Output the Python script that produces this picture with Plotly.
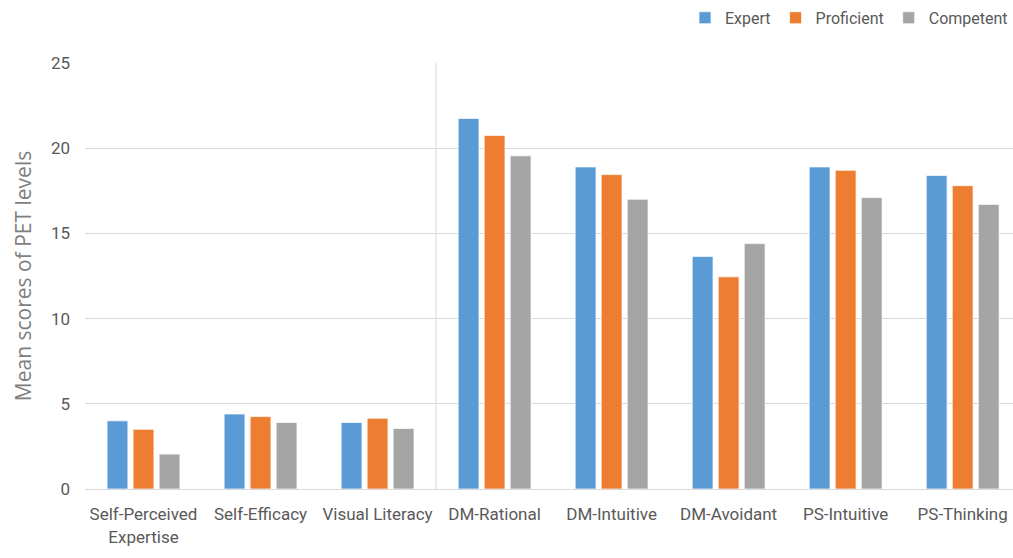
import plotly.graph_objects as go

categories = ["Self-Perceived<br>Expertise", "Self-Efficacy", "Visual Literacy",
              "DM-Rational", "DM-Intuitive", "DM-Avoidant", "PS-Intuitive", "PS-Thinking"]
expert = [4.0, 4.4, 3.9, 21.75, 18.9, 13.65, 18.9, 18.4]
proficient = [3.5, 4.25, 4.15, 20.75, 18.45, 12.45, 18.7, 17.8]
competent = [2.05, 3.9, 3.55, 19.55, 17.0, 14.4, 17.1, 16.7]
y_ticks = [0, 5, 10, 15, 20, 25]

series = [("Expert", expert, "#5B9BD5"),
          ("Proficient", proficient, "#ED7D31"),
          ("Competent", competent, "#A5A5A5")]

FONT = "Roboto, sans-serif"

fig = go.Figure()
for name, vals, color in series:
    fig.add_trace(go.Bar(
        name=name, x=list(range(len(categories))), y=vals,
        marker=dict(color=color, line=dict(color="rgba(255,255,255,0.7)", width=1)),
    ))

# separator between the first three measures and the rest
fig.add_shape(type="line", xref="x", yref="y", x0=2.5, x1=2.5, y0=0, y1=25,
              line=dict(color="#D9D9D9", width=1), layer="below")

fig.update_layout(
    width=1013, height=558,
    margin=dict(l=85, r=0, t=63, b=69),
    paper_bgcolor="white", plot_bgcolor="white",
    barmode="group", bargap=0.333, bargroupgap=0.2,
    font=dict(family=FONT, size=16, color="#595959"),
    legend=dict(orientation="h", x=1.0, xanchor="right", y=1.106, yanchor="middle",
                font=dict(family=FONT, size=16, color="#595959"),
                itemwidth=30, traceorder="normal"),
    xaxis=dict(
        tickmode="array", tickvals=list(range(len(categories))), ticktext=categories,
        range=[-0.5, 7.43], showgrid=False, showline=True, linecolor="#D9D9D9",
        linewidth=1, ticks="", tickfont=dict(family=FONT, size=17, color="#595959"),
        ticklabelstandoff=10, zeroline=False,
    ),
    yaxis=dict(
        range=[0, 25], tickvals=y_ticks, showgrid=True, gridcolor="#D9D9D9",
        gridwidth=1, zeroline=False, showline=False, ticks="",
        tickfont=dict(family=FONT, size=17, color="#595959"), ticklabelstandoff=14,
        title=dict(text="Mean scores of PET levels", standoff=13,
                   font=dict(family="Open Sans, sans-serif", size=21, color="#7F7F7F")),
    ),
)

fig.write_html("out.html")
